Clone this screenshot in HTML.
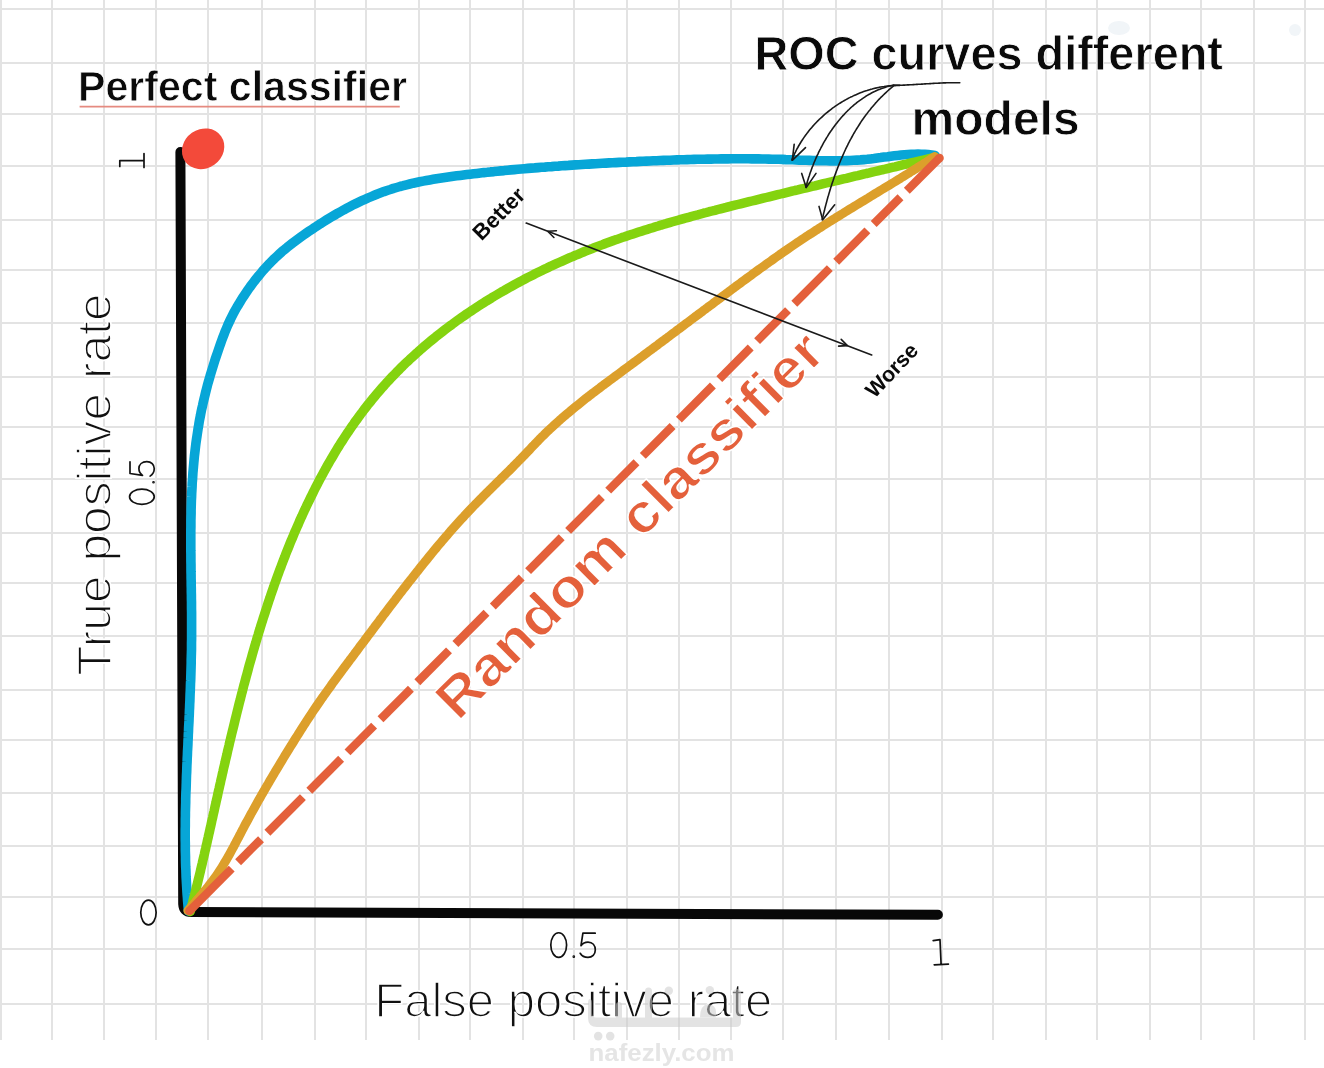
<!DOCTYPE html>
<html><head><meta charset="utf-8"><title>ROC curves</title>
<style>
html,body{margin:0;padding:0;background:#fff;}
body{width:1324px;height:1068px;overflow:hidden;font-family:"Liberation Sans",sans-serif;}
svg{display:block;filter:blur(0.4px);}
</style></head><body>
<svg width="1324" height="1068" viewBox="0 0 1324 1068" font-family="Liberation Sans, sans-serif">
<rect x="0" y="0" width="1324" height="1068" fill="#ffffff"/>
<g stroke="#e3e3e3" stroke-width="2">
<line x1="1" y1="0" x2="1" y2="1040"/>
<line x1="52" y1="0" x2="52" y2="1040"/>
<line x1="104" y1="0" x2="104" y2="1040"/>
<line x1="156" y1="0" x2="156" y2="1040"/>
<line x1="208" y1="0" x2="208" y2="1040"/>
<line x1="262" y1="0" x2="262" y2="1040"/>
<line x1="315" y1="0" x2="315" y2="1040"/>
<line x1="366" y1="0" x2="366" y2="1040"/>
<line x1="419" y1="0" x2="419" y2="1040"/>
<line x1="470" y1="0" x2="470" y2="1040"/>
<line x1="523" y1="0" x2="523" y2="1040"/>
<line x1="574" y1="0" x2="574" y2="1040"/>
<line x1="627" y1="0" x2="627" y2="1040"/>
<line x1="679" y1="0" x2="679" y2="1040"/>
<line x1="731" y1="0" x2="731" y2="1040"/>
<line x1="783" y1="0" x2="783" y2="1040"/>
<line x1="836" y1="0" x2="836" y2="1040"/>
<line x1="889" y1="0" x2="889" y2="1040"/>
<line x1="942" y1="0" x2="942" y2="1040"/>
<line x1="993" y1="0" x2="993" y2="1040"/>
<line x1="1046" y1="0" x2="1046" y2="1040"/>
<line x1="1097" y1="0" x2="1097" y2="1040"/>
<line x1="1150" y1="0" x2="1150" y2="1040"/>
<line x1="1201" y1="0" x2="1201" y2="1040"/>
<line x1="1254" y1="0" x2="1254" y2="1040"/>
<line x1="1305" y1="0" x2="1305" y2="1040"/>
<line x1="0" y1="9" x2="1324" y2="9"/>
<line x1="0" y1="63" x2="1324" y2="63"/>
<line x1="0" y1="114" x2="1324" y2="114"/>
<line x1="0" y1="166" x2="1324" y2="166"/>
<line x1="0" y1="220" x2="1324" y2="220"/>
<line x1="0" y1="270" x2="1324" y2="270"/>
<line x1="0" y1="323" x2="1324" y2="323"/>
<line x1="0" y1="377" x2="1324" y2="377"/>
<line x1="0" y1="427" x2="1324" y2="427"/>
<line x1="0" y1="479" x2="1324" y2="479"/>
<line x1="0" y1="533" x2="1324" y2="533"/>
<line x1="0" y1="583" x2="1324" y2="583"/>
<line x1="0" y1="636" x2="1324" y2="636"/>
<line x1="0" y1="690" x2="1324" y2="690"/>
<line x1="0" y1="740" x2="1324" y2="740"/>
<line x1="0" y1="793" x2="1324" y2="793"/>
<line x1="0" y1="846" x2="1324" y2="846"/>
<line x1="0" y1="897" x2="1324" y2="897"/>
<line x1="0" y1="949" x2="1324" y2="949"/>
<line x1="0" y1="1004" x2="1324" y2="1004"/>
</g>
<!-- faint smudges -->
<ellipse cx="1119" cy="28" rx="11" ry="7" fill="#f1f5f8"/>
<ellipse cx="1295" cy="30" rx="6" ry="6" fill="#f1f5f8"/>
<!-- watermark text -->
<text x="588.5" y="1061" font-size="24.5" font-weight="bold" fill="#e5e5e5" textLength="146" lengthAdjust="spacingAndGlyphs">nafezly.com</text>
<!-- axes -->
<path d="M180.4,152 L183.2,904 Q183.6,912 191,912 L937.9,914.8" stroke="#080808" stroke-width="10" stroke-linecap="round" stroke-linejoin="round" fill="none"/>
<!-- curves -->
<g fill="none" stroke-width="9" stroke-linecap="round" stroke-linejoin="round">
<path d="M188.5,911.0 L188.2,907.6 L187.9,904.3 L187.6,900.9 L187.4,897.5 L187.1,894.1 L186.9,890.7 L186.7,887.3 L186.5,883.9 L186.3,880.5 L186.1,877.1 L186.0,873.7 L185.9,870.3 L185.7,866.9 L185.6,863.5 L185.5,860.1 L185.5,856.7 L185.4,853.4 L185.3,850.0 L185.3,846.6 L185.3,843.2 L185.2,839.8 L185.2,836.4 L185.2,833.0 L185.2,829.6 L185.3,826.2 L185.3,822.8 L185.3,819.4 L185.4,816.0 L185.4,812.6 L185.5,809.2 L185.6,805.9 L185.7,802.5 L185.7,799.1 L185.8,795.7 L185.9,792.3 L186.1,788.9 L186.2,785.5 L186.3,782.1 L186.4,778.7 L186.5,775.3 L186.7,771.9 L186.8,768.5 L186.9,765.1 L187.1,761.7 L187.2,758.3 L187.4,754.9 L187.5,751.6 L187.7,748.2 L187.9,744.8 L188.0,741.4 L188.2,738.0 L188.3,734.6 L188.5,731.2 L188.6,727.8 L188.8,724.4 L189.0,721.0 L189.1,717.6 L189.3,714.2 L189.4,710.8 L189.6,707.4 L189.7,704.0 L189.9,700.6 L190.0,697.2 L190.1,693.8 L190.3,690.4 L190.4,687.0 L190.5,683.6 L190.7,680.2 L190.8,676.8 L190.9,673.4 L191.0,670.0 L191.1,666.6 L191.2,663.2 L191.2,659.8 L191.3,656.4 L191.4,653.0 L191.5,649.6 L191.5,646.2 L191.5,642.8 L191.6,639.4 L191.6,636.0 L191.6,632.6 L191.6,629.2 L191.6,625.8 L191.6,622.4 L191.6,619.0 L191.6,615.6 L191.6,612.2 L191.5,608.8 L191.5,605.4 L191.5,602.0 L191.4,598.6 L191.4,595.2 L191.3,591.8 L191.3,588.4 L191.2,585.0 L191.2,581.6 L191.1,578.2 L191.1,574.8 L191.0,571.4 L191.0,568.0 L191.0,564.6 L190.9,561.2 L190.9,557.8 L190.9,554.4 L190.8,551.0 L190.8,547.6 L190.8,544.2 L190.8,540.8 L190.8,537.4 L190.8,534.0 L190.8,530.6 L190.9,527.2 L190.9,523.8 L190.9,520.4 L191.0,517.0 L191.1,513.6 L191.1,510.2 L191.2,506.8 L191.3,503.4 L191.4,500.1 L191.6,496.7 L191.7,493.3 L191.9,489.9 L192.1,486.5 L192.2,483.1 L192.5,479.8 L192.7,476.4 L192.9,473.0 L193.2,469.6 L193.5,466.3 L193.8,462.9 L194.1,459.5 L194.4,456.1 L194.8,452.8 L195.2,449.4 L195.6,446.0 L196.0,442.7 L196.5,439.3 L197.0,436.0 L197.5,432.6 L198.0,429.2 L198.6,425.9 L199.1,422.5 L199.7,419.2 L200.4,415.8 L201.0,412.5 L201.7,409.1 L202.5,405.8 L203.2,402.5 L204.0,399.1 L204.8,395.8 L205.6,392.5 L206.5,389.1 L207.3,385.8 L208.2,382.5 L209.2,379.2 L210.1,375.9 L211.1,372.6 L212.1,369.4 L213.1,366.1 L214.1,362.9 L215.1,359.6 L216.2,356.4 L217.3,353.2 L218.4,350.0 L219.5,346.8 L220.6,343.6 L221.7,340.5 L222.9,337.3 L224.1,334.2 L225.3,331.1 L226.6,328.0 L227.9,324.9 L229.3,321.9 L230.7,318.9 L232.2,315.9 L233.7,312.9 L235.3,310.0 L237.0,307.0 L238.8,304.1 L240.5,301.2 L242.3,298.3 L244.2,295.5 L246.1,292.6 L248.0,289.8 L250.0,287.0 L252.1,284.2 L254.1,281.5 L256.2,278.8 L258.4,276.1 L260.6,273.5 L262.8,270.8 L265.1,268.3 L267.4,265.8 L269.7,263.3 L272.1,260.9 L274.5,258.5 L277.0,256.2 L279.5,253.9 L282.0,251.6 L284.6,249.5 L287.2,247.3 L289.8,245.2 L292.5,243.1 L295.2,241.1 L297.9,239.1 L300.6,237.1 L303.4,235.1 L306.1,233.2 L308.9,231.3 L311.8,229.4 L314.6,227.5 L317.4,225.7 L320.3,223.8 L323.2,222.0 L326.1,220.2 L329.0,218.4 L331.9,216.7 L334.8,215.0 L337.8,213.2 L340.7,211.6 L343.7,209.9 L346.7,208.3 L349.7,206.7 L352.8,205.1 L355.8,203.6 L358.9,202.1 L361.9,200.7 L365.0,199.3 L368.1,197.9 L371.3,196.6 L374.4,195.3 L377.5,194.0 L380.7,192.8 L383.9,191.6 L387.1,190.5 L390.3,189.5 L393.5,188.4 L396.7,187.5 L400.0,186.5 L403.3,185.7 L406.5,184.8 L409.8,184.0 L413.1,183.2 L416.4,182.5 L419.7,181.8 L423.1,181.1 L426.4,180.5 L429.8,179.9 L433.1,179.3 L436.5,178.7 L439.8,178.2 L443.2,177.7 L446.6,177.2 L449.9,176.7 L453.3,176.2 L456.7,175.8 L460.1,175.4 L463.5,175.0 L466.9,174.6 L470.3,174.2 L473.6,173.8 L477.0,173.4 L480.4,173.0 L483.8,172.6 L487.2,172.3 L490.6,171.9 L494.0,171.6 L497.4,171.2 L500.7,170.9 L504.1,170.6 L507.5,170.2 L510.9,169.9 L514.3,169.6 L517.7,169.3 L521.1,169.0 L524.5,168.7 L527.8,168.4 L531.2,168.1 L534.6,167.9 L538.0,167.6 L541.4,167.3 L544.8,167.1 L548.2,166.8 L551.6,166.6 L554.9,166.3 L558.3,166.1 L561.7,165.8 L565.1,165.6 L568.5,165.4 L571.9,165.1 L575.3,164.9 L578.7,164.7 L582.0,164.5 L585.4,164.3 L588.8,164.1 L592.2,163.9 L595.6,163.7 L599.0,163.5 L602.4,163.3 L605.8,163.1 L609.2,162.9 L612.5,162.8 L615.9,162.6 L619.3,162.4 L622.7,162.2 L626.1,162.1 L629.5,161.9 L632.9,161.7 L636.3,161.6 L639.7,161.4 L643.1,161.3 L646.5,161.1 L649.9,161.0 L653.3,160.8 L656.6,160.7 L660.0,160.5 L663.4,160.4 L666.8,160.3 L670.2,160.2 L673.6,160.0 L677.0,159.9 L680.4,159.8 L683.8,159.7 L687.2,159.6 L690.6,159.5 L694.0,159.4 L697.4,159.3 L700.8,159.3 L704.2,159.2 L707.6,159.1 L711.0,159.1 L714.4,159.0 L717.8,159.0 L721.2,158.9 L724.6,158.9 L728.0,158.9 L731.4,158.8 L734.8,158.8 L738.2,158.8 L741.6,158.8 L745.0,158.8 L748.4,158.8 L751.8,158.9 L755.2,158.9 L758.6,158.9 L762.0,159.0 L765.4,159.0 L768.7,159.1 L772.1,159.2 L775.5,159.3 L778.9,159.3 L782.3,159.4 L785.7,159.6 L789.1,159.7 L792.5,159.8 L795.9,159.9 L799.3,160.1 L802.7,160.2 L806.1,160.3 L809.5,160.4 L812.9,160.5 L816.3,160.6 L819.7,160.7 L823.1,160.8 L826.5,160.8 L829.9,160.9 L833.3,160.9 L836.6,160.9 L840.0,160.8 L843.4,160.7 L846.8,160.6 L850.2,160.5 L853.6,160.3 L857.0,160.1 L860.4,159.9 L863.8,159.6 L867.2,159.3 L870.6,158.9 L873.9,158.5 L877.3,158.0 L880.7,157.6 L884.1,157.1 L887.5,156.7 L890.9,156.2 L894.3,155.8 L897.7,155.4 L901.1,155.0 L904.5,154.7 L907.8,154.5 L911.2,154.3 L914.6,154.2 L918.0,154.1 L921.4,154.2 L924.8,154.4 L928.2,154.6 L931.6,155.0 L935.0,155.6" stroke="#07a6d7" stroke-width="9.6"/>
<path d="M190.2,911.4 L191.0,908.6 L191.7,905.8 L192.5,902.9 L193.2,900.1 L193.9,897.3 L194.7,894.4 L195.4,891.6 L196.1,888.8 L196.8,885.9 L197.5,883.1 L198.2,880.2 L198.9,877.4 L199.6,874.5 L200.3,871.7 L200.9,868.8 L201.6,866.0 L202.3,863.1 L202.9,860.3 L203.6,857.4 L204.3,854.5 L204.9,851.7 L205.6,848.8 L206.2,845.9 L206.9,843.1 L207.5,840.2 L208.2,837.3 L208.8,834.5 L209.5,831.6 L210.1,828.7 L210.8,825.9 L211.4,823.0 L212.0,820.1 L212.7,817.3 L213.3,814.4 L214.0,811.5 L214.6,808.6 L215.2,805.8 L215.9,802.9 L216.5,800.0 L217.2,797.2 L217.8,794.3 L218.4,791.4 L219.1,788.5 L219.7,785.7 L220.4,782.8 L221.0,779.9 L221.7,777.1 L222.3,774.2 L223.0,771.3 L223.6,768.4 L224.3,765.6 L225.0,762.7 L225.6,759.8 L226.3,757.0 L227.0,754.1 L227.6,751.2 L228.3,748.4 L229.0,745.5 L229.6,742.6 L230.3,739.8 L231.0,736.9 L231.7,734.0 L232.4,731.2 L233.1,728.3 L233.8,725.5 L234.5,722.6 L235.2,719.7 L235.9,716.9 L236.6,714.0 L237.3,711.2 L238.0,708.3 L238.7,705.5 L239.4,702.6 L240.2,699.8 L240.9,696.9 L241.6,694.1 L242.4,691.2 L243.1,688.4 L243.8,685.5 L244.6,682.7 L245.4,679.8 L246.1,677.0 L246.9,674.2 L247.7,671.3 L248.4,668.5 L249.2,665.6 L250.0,662.8 L250.8,660.0 L251.6,657.2 L252.4,654.3 L253.2,651.5 L254.0,648.7 L254.8,645.9 L255.7,643.0 L256.5,640.2 L257.3,637.4 L258.2,634.6 L259.0,631.8 L259.9,629.0 L260.7,626.2 L261.6,623.4 L262.5,620.6 L263.4,617.7 L264.3,615.0 L265.2,612.2 L266.1,609.4 L267.0,606.6 L267.9,603.8 L268.8,601.0 L269.8,598.2 L270.7,595.4 L271.6,592.7 L272.6,589.9 L273.6,587.1 L274.5,584.3 L275.5,581.6 L276.5,578.8 L277.5,576.0 L278.5,573.3 L279.5,570.5 L280.6,567.8 L281.6,565.0 L282.6,562.3 L283.7,559.5 L284.8,556.8 L285.8,554.0 L286.9,551.3 L288.0,548.6 L289.1,545.9 L290.2,543.1 L291.3,540.4 L292.5,537.7 L293.6,535.0 L294.7,532.3 L295.9,529.6 L297.1,526.9 L298.3,524.2 L299.4,521.5 L300.6,518.8 L301.9,516.1 L303.1,513.4 L304.3,510.7 L305.6,508.1 L306.8,505.4 L308.1,502.7 L309.4,500.1 L310.7,497.4 L312.0,494.8 L313.3,492.1 L314.6,489.5 L315.9,486.9 L317.3,484.3 L318.6,481.7 L320.0,479.1 L321.4,476.5 L322.8,473.9 L324.2,471.3 L325.7,468.7 L327.1,466.1 L328.5,463.6 L330.0,461.0 L331.5,458.5 L333.0,456.0 L334.5,453.4 L336.0,450.9 L337.5,448.4 L339.1,445.9 L340.6,443.4 L342.2,441.0 L343.8,438.5 L345.4,436.0 L347.0,433.6 L348.7,431.2 L350.3,428.7 L352.0,426.3 L353.7,423.9 L355.3,421.5 L357.1,419.2 L358.8,416.8 L360.5,414.4 L362.3,412.1 L364.0,409.8 L365.8,407.5 L367.6,405.1 L369.4,402.9 L371.3,400.6 L373.1,398.3 L375.0,396.1 L376.9,393.8 L378.8,391.6 L380.7,389.4 L382.6,387.2 L384.6,385.0 L386.5,382.8 L388.5,380.7 L390.5,378.5 L392.5,376.4 L394.6,374.3 L396.6,372.2 L398.7,370.1 L400.7,368.0 L402.8,366.0 L404.9,363.9 L407.0,361.9 L409.2,359.9 L411.3,357.9 L413.5,355.9 L415.7,353.9 L417.9,352.0 L420.1,350.0 L422.3,348.1 L424.5,346.2 L426.7,344.3 L429.0,342.4 L431.3,340.5 L433.5,338.7 L435.8,336.8 L438.1,335.0 L440.4,333.2 L442.8,331.4 L445.1,329.6 L447.5,327.8 L449.8,326.0 L452.2,324.3 L454.6,322.5 L456.9,320.8 L459.3,319.1 L461.7,317.4 L464.2,315.7 L466.6,314.0 L469.0,312.4 L471.5,310.7 L473.9,309.1 L476.4,307.5 L478.8,305.9 L481.3,304.3 L483.8,302.7 L486.3,301.1 L488.8,299.6 L491.3,298.1 L493.8,296.5 L496.4,295.0 L498.9,293.5 L501.4,292.0 L504.0,290.6 L506.5,289.1 L509.1,287.6 L511.7,286.2 L514.3,284.8 L516.8,283.4 L519.4,282.0 L522.0,280.6 L524.6,279.2 L527.2,277.8 L529.9,276.5 L532.5,275.2 L535.1,273.8 L537.7,272.5 L540.4,271.2 L543.0,269.9 L545.7,268.7 L548.4,267.4 L551.0,266.1 L553.7,264.9 L556.4,263.7 L559.0,262.5 L561.7,261.3 L564.4,260.1 L567.1,258.9 L569.8,257.7 L572.5,256.6 L575.2,255.4 L578.0,254.3 L580.7,253.1 L583.4,252.0 L586.1,250.9 L588.9,249.8 L591.6,248.8 L594.3,247.7 L597.1,246.6 L599.8,245.6 L602.6,244.6 L605.3,243.5 L608.1,242.5 L610.9,241.5 L613.6,240.5 L616.4,239.6 L619.2,238.6 L621.9,237.6 L624.7,236.7 L627.5,235.7 L630.3,234.8 L633.1,233.9 L635.9,233.0 L638.7,232.1 L641.5,231.2 L644.3,230.3 L647.1,229.4 L649.9,228.5 L652.7,227.7 L655.5,226.8 L658.3,226.0 L661.1,225.1 L663.9,224.3 L666.7,223.4 L669.6,222.6 L672.4,221.8 L675.2,221.0 L678.0,220.2 L680.9,219.4 L683.7,218.6 L686.5,217.8 L689.4,217.1 L692.2,216.3 L695.0,215.5 L697.9,214.8 L700.7,214.0 L703.5,213.2 L706.4,212.5 L709.2,211.7 L712.1,211.0 L714.9,210.3 L717.8,209.5 L720.6,208.8 L723.5,208.1 L726.3,207.4 L729.2,206.6 L732.0,205.9 L734.9,205.2 L737.7,204.5 L740.6,203.8 L743.4,203.1 L746.3,202.4 L749.1,201.7 L752.0,201.0 L754.9,200.3 L757.7,199.6 L760.6,198.9 L763.4,198.2 L766.3,197.5 L769.1,196.8 L772.0,196.1 L774.9,195.4 L777.7,194.7 L780.6,194.0 L783.4,193.3 L786.3,192.6 L789.2,191.9 L792.0,191.2 L794.9,190.5 L797.7,189.9 L800.6,189.2 L803.5,188.5 L806.3,187.8 L809.2,187.1 L812.0,186.4 L814.9,185.8 L817.8,185.1 L820.6,184.4 L823.5,183.7 L826.3,183.0 L829.2,182.3 L832.1,181.7 L834.9,181.0 L837.8,180.3 L840.6,179.6 L843.5,178.9 L846.4,178.3 L849.2,177.6 L852.1,176.9 L854.9,176.2 L857.8,175.6 L860.7,174.9 L863.5,174.2 L866.4,173.5 L869.3,172.9 L872.1,172.2 L875.0,171.5 L877.8,170.8 L880.7,170.1 L883.6,169.5 L886.4,168.8 L889.3,168.1 L892.2,167.4 L895.0,166.8 L897.9,166.1 L900.7,165.4 L903.6,164.7 L906.5,164.1 L909.3,163.4 L912.2,162.7 L915.0,162.0 L917.9,161.3 L920.8,160.7 L923.6,160.0 L926.5,159.3 L929.4,158.6 L932.2,158.0 L935.1,157.3" stroke="#84d30f" stroke-width="9.5"/>
<path d="M187.9,910.6 L189.7,908.5 L191.5,906.5 L193.2,904.4 L195.0,902.4 L196.8,900.3 L198.6,898.3 L200.3,896.2 L202.1,894.1 L203.8,892.0 L205.5,890.0 L207.2,887.9 L208.8,885.8 L210.5,883.6 L212.1,881.5 L213.7,879.3 L215.3,877.2 L216.8,875.0 L218.3,872.8 L219.8,870.5 L221.2,868.3 L222.7,866.0 L224.0,863.7 L225.4,861.4 L226.8,859.1 L228.1,856.8 L229.4,854.5 L230.7,852.1 L232.0,849.7 L233.3,847.4 L234.5,845.0 L235.8,842.6 L237.0,840.2 L238.3,837.9 L239.5,835.5 L240.8,833.1 L242.0,830.7 L243.3,828.3 L244.5,825.9 L245.8,823.5 L247.1,821.2 L248.4,818.8 L249.7,816.4 L250.9,814.1 L252.3,811.7 L253.6,809.3 L254.9,807.0 L256.2,804.6 L257.5,802.3 L258.8,799.9 L260.2,797.6 L261.5,795.2 L262.9,792.9 L264.2,790.5 L265.6,788.2 L266.9,785.8 L268.3,783.5 L269.6,781.2 L271.0,778.9 L272.4,776.5 L273.8,774.2 L275.1,771.9 L276.5,769.6 L277.9,767.3 L279.3,764.9 L280.7,762.6 L282.1,760.3 L283.5,758.0 L284.9,755.7 L286.3,753.4 L287.7,751.1 L289.1,748.8 L290.5,746.5 L292.0,744.2 L293.4,742.0 L294.8,739.7 L296.2,737.4 L297.7,735.1 L299.1,732.8 L300.5,730.6 L302.0,728.3 L303.4,726.0 L304.9,723.8 L306.3,721.5 L307.8,719.3 L309.3,717.0 L310.8,714.8 L312.2,712.5 L313.7,710.3 L315.2,708.1 L316.7,705.9 L318.3,703.6 L319.8,701.4 L321.3,699.2 L322.9,697.0 L324.4,694.8 L326.0,692.6 L327.5,690.5 L329.1,688.3 L330.7,686.1 L332.2,683.9 L333.8,681.7 L335.4,679.6 L337.0,677.4 L338.6,675.2 L340.2,673.1 L341.8,670.9 L343.4,668.7 L345.0,666.6 L346.6,664.4 L348.2,662.3 L349.8,660.1 L351.5,657.9 L353.1,655.8 L354.7,653.6 L356.3,651.5 L357.9,649.3 L359.5,647.1 L361.1,645.0 L362.8,642.8 L364.4,640.7 L366.0,638.5 L367.6,636.3 L369.2,634.2 L370.9,632.0 L372.5,629.8 L374.1,627.7 L375.7,625.5 L377.3,623.4 L379.0,621.2 L380.6,619.0 L382.2,616.9 L383.8,614.7 L385.5,612.6 L387.1,610.4 L388.7,608.3 L390.4,606.1 L392.0,604.0 L393.7,601.8 L395.3,599.7 L396.9,597.5 L398.6,595.4 L400.2,593.2 L401.9,591.1 L403.5,588.9 L405.2,586.8 L406.9,584.7 L408.5,582.5 L410.2,580.4 L411.9,578.3 L413.5,576.2 L415.2,574.0 L416.9,571.9 L418.6,569.8 L420.2,567.7 L421.9,565.6 L423.6,563.5 L425.3,561.4 L427.0,559.3 L428.7,557.2 L430.4,555.1 L432.1,553.0 L433.8,550.9 L435.6,548.8 L437.3,546.7 L439.0,544.7 L440.8,542.6 L442.5,540.5 L444.3,538.5 L446.0,536.4 L447.8,534.4 L449.5,532.4 L451.3,530.3 L453.1,528.3 L454.9,526.3 L456.7,524.3 L458.5,522.3 L460.3,520.3 L462.1,518.3 L464.0,516.3 L465.8,514.3 L467.6,512.4 L469.5,510.4 L471.4,508.4 L473.2,506.5 L475.1,504.5 L477.0,502.6 L478.9,500.7 L480.8,498.8 L482.7,496.8 L484.6,494.9 L486.5,493.0 L488.4,491.1 L490.3,489.2 L492.3,487.3 L494.2,485.4 L496.1,483.5 L498.0,481.6 L500.0,479.7 L501.9,477.8 L503.8,475.9 L505.7,474.0 L507.7,472.1 L509.6,470.2 L511.5,468.3 L513.4,466.3 L515.3,464.4 L517.2,462.5 L519.1,460.5 L521.0,458.6 L522.9,456.6 L524.8,454.7 L526.6,452.7 L528.5,450.8 L530.4,448.8 L532.2,446.8 L534.1,444.9 L536.0,442.9 L537.9,441.0 L539.7,439.0 L541.6,437.1 L543.6,435.2 L545.5,433.3 L547.4,431.4 L549.4,429.6 L551.4,427.7 L553.3,425.9 L555.3,424.1 L557.3,422.3 L559.3,420.5 L561.4,418.7 L563.4,416.9 L565.4,415.2 L567.5,413.4 L569.6,411.7 L571.6,410.0 L573.7,408.3 L575.8,406.6 L577.9,404.9 L580.0,403.2 L582.1,401.5 L584.2,399.8 L586.3,398.1 L588.5,396.5 L590.6,394.8 L592.7,393.2 L594.9,391.6 L597.0,389.9 L599.2,388.3 L601.3,386.7 L603.5,385.0 L605.7,383.4 L607.8,381.8 L610.0,380.2 L612.2,378.6 L614.3,377.0 L616.5,375.4 L618.7,373.8 L620.9,372.2 L623.0,370.5 L625.2,368.9 L627.4,367.3 L629.6,365.7 L631.7,364.1 L633.9,362.5 L636.1,360.9 L638.2,359.3 L640.4,357.7 L642.6,356.1 L644.8,354.4 L646.9,352.8 L649.1,351.2 L651.3,349.6 L653.4,348.0 L655.6,346.4 L657.8,344.8 L659.9,343.1 L662.1,341.5 L664.3,339.9 L666.4,338.3 L668.6,336.7 L670.8,335.0 L672.9,333.4 L675.1,331.8 L677.2,330.2 L679.4,328.6 L681.6,326.9 L683.7,325.3 L685.9,323.7 L688.1,322.1 L690.2,320.5 L692.4,318.8 L694.6,317.2 L696.7,315.6 L698.9,314.0 L701.1,312.4 L703.2,310.7 L705.4,309.1 L707.5,307.5 L709.7,305.9 L711.9,304.3 L714.0,302.7 L716.2,301.0 L718.4,299.4 L720.5,297.8 L722.7,296.2 L724.9,294.6 L727.1,293.0 L729.2,291.4 L731.4,289.7 L733.6,288.1 L735.7,286.5 L737.9,284.9 L740.1,283.3 L742.2,281.7 L744.4,280.1 L746.6,278.5 L748.8,276.9 L751.0,275.3 L753.1,273.7 L755.3,272.1 L757.5,270.5 L759.7,268.9 L761.9,267.4 L764.1,265.8 L766.3,264.2 L768.5,262.6 L770.7,261.1 L772.9,259.5 L775.1,257.9 L777.3,256.4 L779.5,254.8 L781.7,253.3 L783.9,251.7 L786.1,250.2 L788.3,248.7 L790.6,247.1 L792.8,245.6 L795.0,244.1 L797.3,242.6 L799.5,241.1 L801.8,239.6 L804.0,238.1 L806.3,236.6 L808.5,235.1 L810.8,233.7 L813.1,232.2 L815.3,230.7 L817.6,229.3 L819.9,227.8 L822.2,226.4 L824.4,224.9 L826.7,223.5 L829.0,222.0 L831.3,220.6 L833.6,219.2 L835.9,217.7 L838.2,216.3 L840.5,214.9 L842.8,213.5 L845.1,212.0 L847.4,210.6 L849.7,209.2 L852.0,207.8 L854.3,206.4 L856.6,205.0 L858.9,203.6 L861.2,202.2 L863.5,200.8 L865.9,199.4 L868.2,198.0 L870.5,196.5 L872.8,195.1 L875.1,193.7 L877.4,192.3 L879.7,190.9 L882.0,189.5 L884.3,188.1 L886.7,186.7 L889.0,185.3 L891.3,183.9 L893.6,182.5 L895.9,181.1 L898.2,179.7 L900.5,178.3 L902.8,176.8 L905.1,175.4 L907.4,174.0 L909.7,172.6 L912.0,171.1 L914.3,169.7 L916.6,168.3 L918.8,166.8 L921.1,165.4 L923.4,163.9 L925.7,162.5 L928.0,161.0 L930.2,159.6 L932.5,158.1 L934.8,156.6" stroke="#dc9f2b" stroke-width="9"/>
</g>
<!-- red dashed diagonal -->
<g stroke="#e4603b" stroke-width="8.3" fill="none">
<path d="M189.5,911.0 L231.7,868.6"/>
<path d="M238.1,862.2 L261.0,839.2"/>
<path d="M267.4,832.8 L302.9,797.1"/>
<path d="M309.3,790.7 L341.1,758.8"/>
<path d="M347.5,752.4 L374.1,725.6"/>
<path d="M380.5,719.2 L410.9,688.7"/>
<path d="M417.3,682.3 L449.0,650.4"/>
<path d="M455.4,644.0 L486.5,612.8"/>
<path d="M492.8,606.5 L521.7,577.5"/>
<path d="M528.1,571.1 L561.7,537.3"/>
<path d="M568.1,530.9 L601.9,497.0"/>
<path d="M608.2,490.6 L636.5,462.2"/>
<path d="M642.8,455.9 L672.6,426.0"/>
<path d="M678.9,419.6 L712.9,385.5"/>
<path d="M719.3,379.1 L750.7,347.5"/>
<path d="M757.1,341.1 L788.0,310.1"/>
<path d="M794.3,303.8 L829.8,268.1"/>
<path d="M836.2,261.7 L867.4,230.4"/>
<path d="M873.7,224.0 L900.5,197.2"/>
<path d="M906.8,190.8 L939.5,158.0"/>
</g>
<circle cx="189.5" cy="911" r="4.3" fill="#e4603b"/>
<circle cx="939.5" cy="158" r="4.3" fill="#e4603b"/>
<!-- red dot -->
<ellipse cx="203.1" cy="148.8" rx="22" ry="19.5" fill="#f34a3a" transform="rotate(-35 203.1 148.8)"/>
<!-- arrows -->
<g fill="none" stroke="#1a1a1a" stroke-width="1.6" stroke-linecap="round" stroke-linejoin="round">
<path d="M959.8,82.7 L959.0,82.7 L958.1,82.7 L957.3,82.7 L956.5,82.7 L955.6,82.7 L954.8,82.7 L953.9,82.7 L953.1,82.7 L952.3,82.7 L951.4,82.7 L950.6,82.7 L949.8,82.7 L948.9,82.8 L948.1,82.8 L947.3,82.8 L946.4,82.8 L945.6,82.9 L944.8,82.9 L943.9,82.9 L943.1,82.9 L942.3,83.0 L941.4,83.0 L940.6,83.0 L939.8,83.1 L938.9,83.1 L938.1,83.2 L937.3,83.2 L936.4,83.2 L935.6,83.3 L934.8,83.3 L933.9,83.4 L933.1,83.4 L932.3,83.5 L931.4,83.5 L930.6,83.6 L929.8,83.6 L928.9,83.7 L928.1,83.7 L927.3,83.8 L926.4,83.8 L925.6,83.9 L924.8,83.9 L923.9,84.0 L923.1,84.0 L922.3,84.1 L921.4,84.1 L920.6,84.2 L919.8,84.2 L918.9,84.3 L918.1,84.3 L917.3,84.4 L916.4,84.4 L915.6,84.5 L914.8,84.5 L913.9,84.6 L913.1,84.6 L912.3,84.7 L911.4,84.7 L910.6,84.8 L909.8,84.8 L908.9,84.9 L908.1,84.9 L907.3,84.9 L906.4,85.0 L905.6,85.0 L904.7,85.1 L903.9,85.1 L903.1,85.1 L902.2,85.2 L901.4,85.2 L900.6,85.2 L899.7,85.2 L898.9,85.3 L898.1,85.3 L897.2,85.3 L896.4,85.3 L895.6,85.4 L894.7,85.4 L893.9,85.4"/>
<path d="M899.8,85.4 L898.1,85.4 L896.3,85.4 L894.6,85.4 L892.8,85.5 L891.1,85.7 L889.3,85.8 L887.6,86.0 L885.8,86.2 L884.1,86.5 L882.4,86.7 L880.6,87.0 L878.9,87.4 L877.2,87.7 L875.5,88.1 L873.8,88.5 L872.1,89.0 L870.4,89.4 L868.7,89.9 L867.0,90.5 L865.3,91.0 L863.7,91.6 L862.0,92.2 L860.4,92.8 L858.7,93.5 L857.1,94.2 L855.5,94.9 L853.9,95.6 L852.3,96.4 L850.7,97.1 L849.1,97.9 L847.5,98.8 L846.0,99.6 L844.4,100.5 L842.9,101.4 L841.4,102.3 L839.9,103.2 L838.4,104.2 L836.9,105.2 L835.4,106.2 L834.0,107.2 L832.5,108.2 L831.1,109.3 L829.7,110.4 L828.3,111.5 L826.9,112.6 L825.6,113.7 L824.2,114.9 L822.9,116.1 L821.6,117.3 L820.3,118.5 L819.0,119.7 L817.8,120.9 L816.5,122.2 L815.3,123.5 L814.1,124.8 L812.9,126.1 L811.8,127.4 L810.6,128.8 L809.5,130.1 L808.4,131.5 L807.3,132.9 L806.3,134.3 L805.2,135.7 L804.2,137.1 L803.2,138.6 L802.3,140.0 L801.3,141.5 L800.4,143.0 L799.5,144.5 L798.6,146.0 L797.8,147.5 L796.9,149.0 L796.1,150.6 L795.4,152.1 L794.6,153.7 L793.9,155.3 L793.2,156.8 L792.5,158.4 L791.9,160.0"/>
<path d="M893.7,85.1 L891.9,85.5 L890.1,85.9 L888.4,86.3 L886.7,86.8 L885.0,87.4 L883.3,87.9 L881.6,88.5 L879.9,89.2 L878.3,89.8 L876.7,90.5 L875.1,91.3 L873.5,92.0 L871.9,92.8 L870.3,93.7 L868.8,94.5 L867.3,95.4 L865.8,96.3 L864.3,97.3 L862.8,98.3 L861.4,99.3 L859.9,100.3 L858.5,101.4 L857.1,102.4 L855.7,103.6 L854.3,104.7 L853.0,105.8 L851.6,107.0 L850.3,108.2 L849.0,109.5 L847.7,110.7 L846.4,112.0 L845.2,113.3 L844.0,114.6 L842.7,115.9 L841.5,117.3 L840.3,118.7 L839.2,120.1 L838.0,121.5 L836.9,122.9 L835.8,124.3 L834.7,125.8 L833.6,127.3 L832.5,128.8 L831.5,130.3 L830.4,131.8 L829.4,133.3 L828.4,134.8 L827.5,136.4 L826.5,137.9 L825.6,139.5 L824.6,141.1 L823.7,142.7 L822.8,144.3 L822.0,145.9 L821.1,147.5 L820.3,149.1 L819.4,150.8 L818.6,152.4 L817.9,154.1 L817.1,155.7 L816.3,157.4 L815.6,159.0 L814.9,160.7 L814.2,162.3 L813.5,164.0 L812.9,165.7 L812.2,167.3 L811.6,169.0 L811.0,170.7 L810.4,172.3 L809.8,174.0 L809.3,175.7 L808.7,177.3 L808.2,179.0 L807.7,180.6 L807.2,182.3 L806.8,183.9 L806.3,185.6 L805.9,187.2"/>
<path d="M893.6,86.0 L892.1,87.2 L890.6,88.4 L889.1,89.7 L887.6,91.0 L886.2,92.3 L884.8,93.6 L883.4,95.0 L882.0,96.4 L880.6,97.7 L879.2,99.1 L877.9,100.5 L876.6,102.0 L875.3,103.4 L874.0,104.9 L872.7,106.4 L871.5,107.8 L870.3,109.4 L869.0,110.9 L867.9,112.4 L866.7,114.0 L865.5,115.5 L864.4,117.1 L863.2,118.7 L862.1,120.3 L861.0,121.9 L860.0,123.5 L858.9,125.2 L857.9,126.8 L856.8,128.5 L855.8,130.2 L854.8,131.8 L853.8,133.5 L852.9,135.2 L851.9,137.0 L851.0,138.7 L850.0,140.4 L849.1,142.2 L848.2,143.9 L847.4,145.7 L846.5,147.4 L845.6,149.2 L844.8,151.0 L844.0,152.8 L843.2,154.6 L842.4,156.4 L841.6,158.2 L840.8,160.0 L840.1,161.8 L839.3,163.7 L838.6,165.5 L837.9,167.3 L837.2,169.2 L836.5,171.0 L835.8,172.9 L835.1,174.7 L834.4,176.6 L833.8,178.4 L833.2,180.3 L832.5,182.2 L831.9,184.0 L831.3,185.9 L830.7,187.8 L830.2,189.6 L829.6,191.5 L829.0,193.4 L828.5,195.3 L827.9,197.1 L827.4,199.0 L826.9,200.9 L826.4,202.8 L825.9,204.6 L825.4,206.5 L824.9,208.4 L824.5,210.3 L824.0,212.1 L823.5,214.0 L823.1,215.8 L822.7,217.7 L822.2,219.6"/>
<path d="M794.2,144.2 L792.3,160.3 L805.5,147.6"/><path d="M801.7,173.4 L806.2,187.6 L816,173.4"/><path d="M819,206.4 L822.7,219.8 L834.7,204.8"/>
<path d="M526.2,223.1 L871.7,354.9"/>
<path d="M553.9,237.5 L547.7,231.3 L556.4,230.8"/>
<path d="M838.6,346.1 L847.4,345.6 L841.2,339.4"/>
</g>
<!-- texts -->
<text x="78" y="100.5" font-weight="bold" font-size="43" fill="#0a0a0a" stroke="#fff" stroke-width="0.8" textLength="329" lengthAdjust="spacingAndGlyphs">Perfect classifier</text>
<line x1="79.6" y1="106.6" x2="399.8" y2="106.6" stroke="#e58a80" stroke-width="1.8" />
<text x="754.4" y="69.6" font-weight="bold" font-size="48.5" fill="#0a0a0a" stroke="#fff" stroke-width="0.8" textLength="468.5" lengthAdjust="spacingAndGlyphs">ROC curves different</text>
<text x="911.6" y="134.5" font-weight="bold" font-size="48.5" fill="#0a0a0a" stroke="#fff" stroke-width="0.8" textLength="168" lengthAdjust="spacingAndGlyphs">models</text>
<g fill="#111" stroke="#fff" stroke-width="1.7">
<text x="374.2" y="1017.1" font-size="48.4" textLength="398" lengthAdjust="spacingAndGlyphs">False positive rate</text>
<text transform="translate(111.3,675.8) rotate(-90)" font-size="48.5" textLength="382.4" lengthAdjust="spacingAndGlyphs">True positive rate</text>
</g>
<g fill="none" stroke="#111" stroke-width="1.7" stroke-linecap="round" stroke-linejoin="round">
<g transform="translate(550,958.3)">
<ellipse cx="8.7" cy="-13.2" rx="7.9" ry="12.35"/>
<path d="M45.2,-25.1 L32.9,-25.1 L31,-12.6 C32.8,-15.1 35.2,-16.2 38,-16.2 C42.5,-16.2 45.3,-12.8 45.3,-8.3 C45.3,-3.8 42.2,-0.85 38,-0.85 C34.5,-0.85 31.6,-2.6 30.2,-5"/>
<circle cx="23.8" cy="-1.6" r="0.5" fill="#111"/>
</g>
<g transform="translate(155.1,505.1) rotate(-90) scale(0.96,1)">
<ellipse cx="8.7" cy="-13.2" rx="7.9" ry="12.35"/>
<path d="M45.2,-25.1 L32.9,-25.1 L31,-12.6 C32.8,-15.1 35.2,-16.2 38,-16.2 C42.5,-16.2 45.3,-12.8 45.3,-8.3 C45.3,-3.8 42.2,-0.85 38,-0.85 C34.5,-0.85 31.6,-2.6 30.2,-5"/>
<circle cx="23.8" cy="-1.6" r="0.5" fill="#111"/>
</g>
<ellipse cx="148.45" cy="912.55" rx="7.7" ry="12.4"/>
<path d="M933.2,940.7 L940,939.7 L941.1,964.3 M934.2,964.8 L948.4,964.1"/>
<path d="M119.8,166.5 L119.8,160.5 L144,160.6 M144,153.6 L144,167.4"/>
</g>

<!-- watermark logo overlay -->
<g fill="#cdcdcd" opacity="0.55">
<path d="M588,1003 L588,1018 Q588,1027 597,1027 L736,1027 Q741,1027 741,1022 L741,993 Q741,989 737,989 Q733,989 733,993 L733,1017.5 L652,1017.5 L652,991 Q652,987.5 648.5,987.5 Q645,987.5 645,991 L645,1017.5 L622,1017.5 L622,1005 Q622,1002 619,1002 Q616,1002 616,1005 L616,1017.5 L596,1017.5 Q592,1017.5 592,1013 L592,1003 Q592,999 590,999 Q588,999 588,1003 Z"/>
<path d="M700,1017.5 Q700,1005 708,1004 Q716,1005 716,1012 L716,1017.5 Z" />
<circle cx="668.8" cy="990.7" r="4.2"/><circle cx="709.8" cy="990.1" r="4.2"/>
<circle cx="598.2" cy="1036.1" r="4.3"/><circle cx="610.2" cy="1036.1" r="4.3"/>
</g>
<text transform="translate(458,722) rotate(-44.8)" font-weight="bold" font-size="55" fill="#e4603b" stroke="#fff" stroke-width="1.4" textLength="521" lengthAdjust="spacingAndGlyphs">Random classifier</text>
<text transform="translate(481.5,241.5) rotate(-45)" font-weight="bold" font-size="22" fill="#0a0a0a">Better</text>
<text transform="translate(874.5,399) rotate(-46.4)" font-weight="bold" font-size="21.5" fill="#0a0a0a">Worse</text>
</svg>
</body></html>
